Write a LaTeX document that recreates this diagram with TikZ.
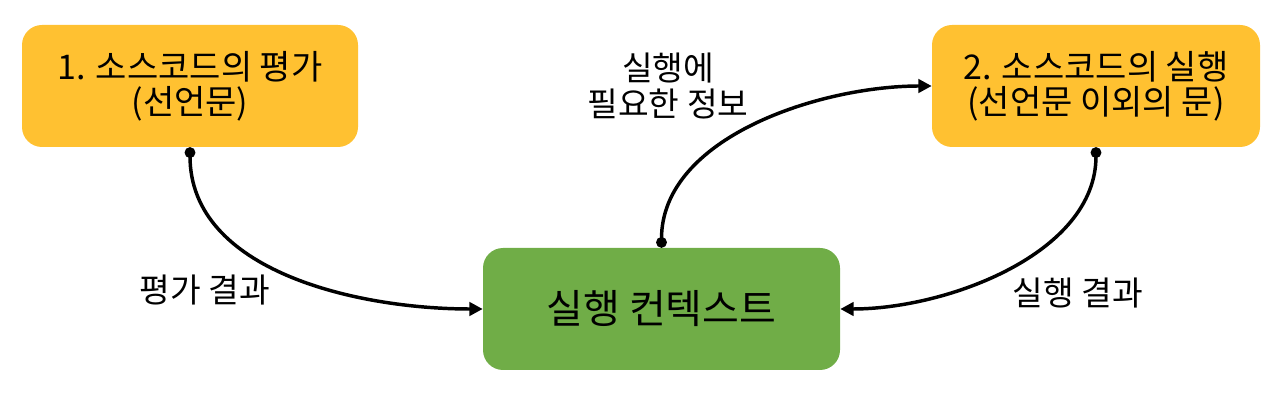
\documentclass[tikz,border=0pt]{standalone}
\usepackage{fontspec}
\setmainfont{Noto Sans CJK KR}
\usetikzlibrary{arrows.meta}
\definecolor{boxyellow}{HTML}{FFC131}
\definecolor{boxgreen}{HTML}{70AD47}
\tikzset{
  ybox/.style={fill=boxyellow, rounded corners=15pt, minimum height=91.5pt, align=center, font=\fontsize{25.5}{26.5}\selectfont, inner sep=0pt},
  gbox/.style={fill=boxgreen, rounded corners=15pt, minimum width=267.75pt, minimum height=91.5pt, align=center, font=\fontsize{30}{32}\selectfont, inner sep=0pt},
  lbl/.style={align=center, font=\fontsize{25}{26.5}\selectfont, inner sep=0pt},
  conn/.style={line width=2.6pt, {Circle[length=8pt,width=8pt]}-{Triangle[length=10pt,width=10pt]}}
}
\begin{document}
\begin{tikzpicture}[x=0.75pt,y=-0.75pt]
\useasboundingbox (0,0) rectangle (1278,402);
\node[ybox, minimum width=252pt] (b1) at (190,86) {1. 소스코드의 평가\\(선언문)};
\node[ybox, minimum width=246pt] (b2) at (1096,86) {2. 소스코드의 실행\\(선언문 이외의 문)};
\node[gbox] (g) at (661.5,309) {실행 컨텍스트};
\node[lbl] (l1) at (205,290) {평가 결과};
\node[lbl] (l2) at (668,86) {실행에\\필요한 정보};
\node[lbl] (l3) at (1078,293) {실행 결과};
\draw[conn] (b1.south) to[out=-90,in=180,looseness=0.95] (g.west);
\draw[conn] (g.north) to[out=90,in=180,looseness=0.9] (b2.west);
\draw[conn] (b2.south) to[out=-90,in=0,looseness=0.9] (g.east);
\end{tikzpicture}
\end{document}
